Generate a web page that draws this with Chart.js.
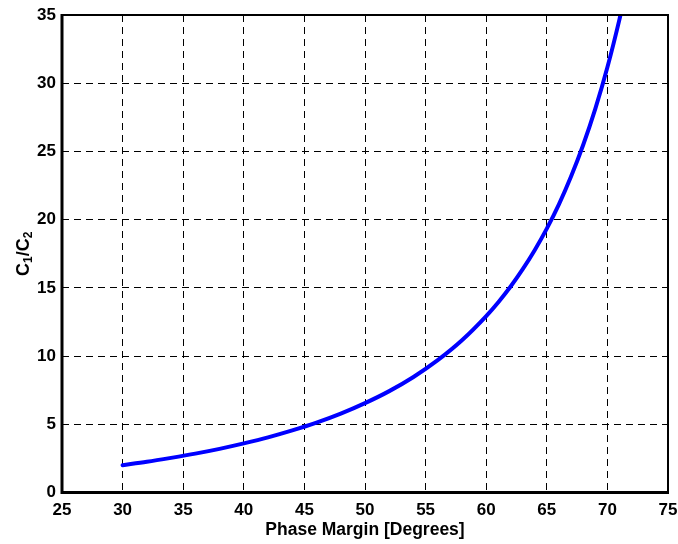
<!DOCTYPE html>
<html>
<head>
<meta charset="utf-8">
<script src="https://cdn.jsdelivr.net/npm/chart.js@4"></script>
<style>
html,body{margin:0;padding:0;background:#fff;}
#wrap{width:678px;height:544px;}
</style>
</head>
<body>
<div id="wrap"><canvas id="c" width="678" height="544"></canvas></div>
<script>
// Data
const phaseMargin = [30, 32, 34, 36, 38, 40, 42, 44, 46, 48, 50, 52, 54, 56, 58, 60, 61, 62, 63, 64, 65, 66, 67, 68, 69, 70, 71, 71.1];
const c1OverC2   = [2.00, 2.25, 2.54, 2.85, 3.20, 3.60, 4.04, 4.55, 5.12, 5.78, 6.55, 7.43, 8.47, 9.70, 11.16, 12.93, 13.95, 15.08, 16.35, 17.76, 19.34, 21.12, 23.16, 25.47, 28.12, 31.17, 34.70, 35.10];
const xTicks = [25, 30, 35, 40, 45, 50, 55, 60, 65, 70, 75];
const yTicks = [0, 5, 10, 15, 20, 25, 30, 35];
const xTitle = 'Phase Margin [Degrees]';
// y title parts: [text, isSubscript]
const yTitleParts = [['C', false], ['1', true], ['/', false], ['C', false], ['2', true]];

const points = phaseMargin.map((x, i) => ({x: x, y: c1OverC2[i]}));
const FAMILY = '"Liberation Sans", Arial, Helvetica, sans-serif';

const boxPlugin = {
  id: 'box',
  afterDraw(chart) {
    const a = chart.chartArea, ctx = chart.ctx;
    ctx.save();
    ctx.strokeStyle = '#000';
    ctx.lineWidth = 2;
    ctx.strokeRect(a.left, a.top, a.right - a.left, a.bottom - a.top);
    ctx.lineWidth = 3;
    ctx.beginPath();
    ctx.moveTo(a.left, a.top - 1);
    ctx.lineTo(a.left, a.bottom);
    ctx.lineTo(a.right + 1, a.bottom);
    ctx.stroke();

    // y-axis title with real subscripts
    const mainFont = 'bold 18px ' + FAMILY;
    const subFont = 'bold 12px ' + FAMILY;
    let total = 0;
    yTitleParts.forEach(([t, sub]) => { ctx.font = sub ? subFont : mainFont; total += ctx.measureText(t).width; });
    ctx.translate(22, (a.top + a.bottom) / 2);
    ctx.rotate(-Math.PI / 2);
    ctx.fillStyle = '#000';
    ctx.textBaseline = 'alphabetic';
    ctx.textAlign = 'left';
    let x = -total / 2;
    yTitleParts.forEach(([t, sub]) => {
      ctx.font = sub ? subFont : mainFont;
      ctx.fillText(t, x, sub ? 10 : 6.5);
      x += ctx.measureText(t).width;
    });
    ctx.restore();
  }
};

const tickFont = {family: FAMILY, size: 17, weight: 'bold'};
const titleFont = {family: FAMILY, size: 17.5, weight: 'bold'};

new Chart(document.getElementById('c'), {
  type: 'line',
  data: {
    datasets: [{
      data: points,
      borderColor: '#0000ff',
      borderWidth: 4,
      borderCapStyle: 'round',
      pointRadius: 0,
      fill: false,
      cubicInterpolationMode: 'monotone'
    }]
  },
  options: {
    responsive: false,
    animation: false,
    events: [],
    layout: {padding: {left: 0, right: 10, top: 15, bottom: 0}},
    plugins: {legend: {display: false}, tooltip: {enabled: false}},
    scales: {
      x: {
        type: 'linear',
        min: 25, max: 75,
        afterBuildTicks: s => { s.ticks = xTicks.map(v => ({value: v})); },
        afterFit: s => { s.height = 51.5; s.paddingLeft = 0; s.paddingRight = 0; },
        grid: {color: '#000', lineWidth: 1, drawTicks: false},
        border: {display: false, dash: [7, 5]},
        ticks: {color: '#000', font: tickFont, padding: 8, maxRotation: 0},
        title: {display: true, text: xTitle, color: '#000', font: titleFont, padding: {top: 0, bottom: 3}}
      },
      y: {
        type: 'linear',
        min: 0, max: 35,
        afterBuildTicks: s => { s.ticks = yTicks.map(v => ({value: v})); },
        afterFit: s => { s.width = 62; s.paddingTop = 0; s.paddingBottom = 0; },
        grid: {color: '#000', lineWidth: 1, drawTicks: false},
        border: {display: false, dash: [7, 5]},
        ticks: {color: '#000', font: tickFont, padding: 6},
        title: {display: false}
      }
    }
  },
  plugins: [boxPlugin]
});
</script>
</body>
</html>
